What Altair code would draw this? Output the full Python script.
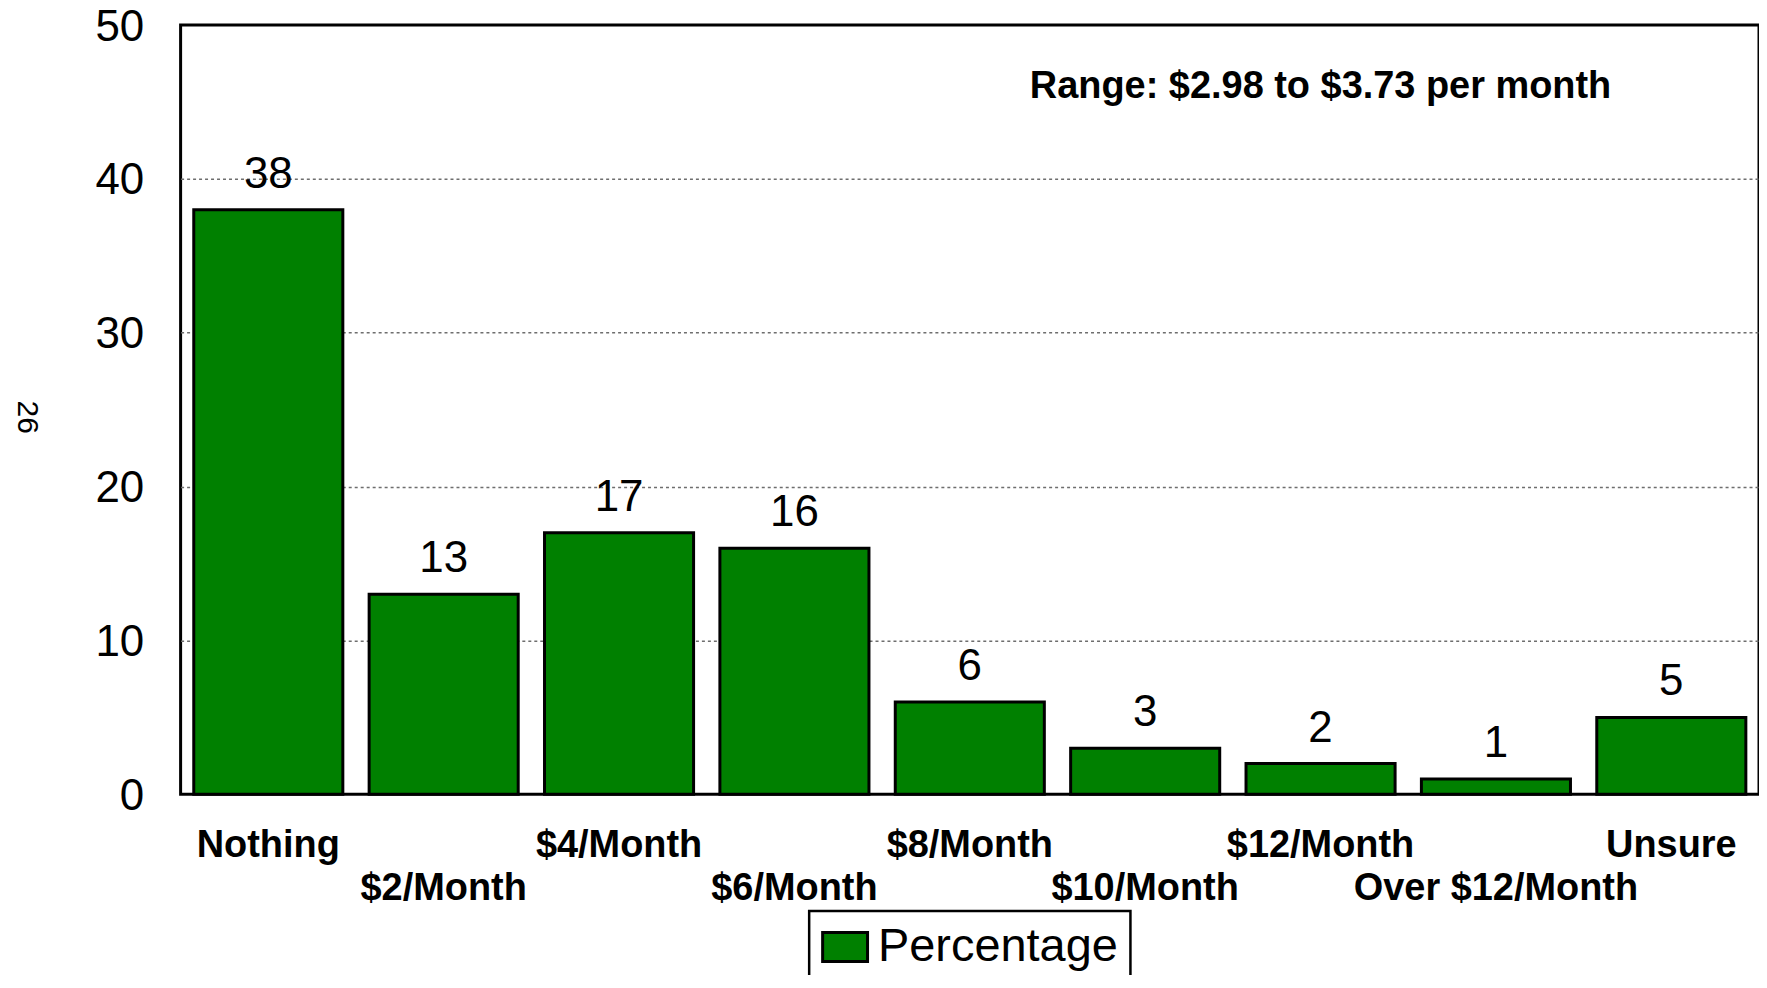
import altair as alt
import pandas as pd

categories = ["Nothing", "$2/Month", "$4/Month", "$6/Month", "$8/Month",
              "$10/Month", "$12/Month", "Over $12/Month", "Unsure"]
values = [38, 13, 17, 16, 6, 3, 2, 1, 5]
series_name = "Percentage"
y_ticks = [0, 10, 20, 30, 40, 50]
range_note = "Range: $2.98 to $3.73 per month"
range_note_category = "$12/Month"
range_note_value = 46
page_number = "26"

FONT = "Liberation Sans"

df = pd.DataFrame({"category": categories, "value": values,
                   "series": [series_name] * len(categories)})

second_row = [c for i, c in enumerate(categories) if i % 2 == 1]
label_expr = ("indexof([" + ",".join("'" + c + "'" for c in second_row) +
              "], datum.value) >= 0 ? ['', datum.label] : datum.label")

x_enc = alt.X(
    "category:N", sort=categories,
    scale=alt.Scale(paddingInner=0.15, paddingOuter=0.075),
    axis=alt.Axis(title=None, labelAngle=0, labelFont=FONT, labelFontSize=38,
                  labelFontWeight="bold", labelColor="black", labelPadding=32,
                  labelBaseline="top", labelLineHeight=43, labelExpr=label_expr,
                  domain=False, ticks=False, grid=False, labelLimit=500,
                  labelOverlap=False),
)
y_enc = alt.Y(
    "value:Q", scale=alt.Scale(domain=[0, 50], nice=False),
    axis=alt.Axis(values=y_ticks, title=None, labelFont=FONT, labelFontSize=44,
                  labelColor="black", labelPadding=37, labelOffset=2,
                  domain=False, ticks=False,
                  grid=True, gridColor="#6e6e6e", gridDash=[3, 3], gridWidth=1.5,
                  gridOpacity={"condition": {"test": "datum.value <= 0 || datum.value >= 50",
                                             "value": 0}, "value": 1},
                  labelFlush=False, labelOverlap=False),
)

base = alt.Chart(df).encode(x=x_enc, y=y_enc)

bars = base.mark_bar(stroke="black", strokeWidth=3).encode(
    color=alt.Color(
        "series:N",
        scale=alt.Scale(range=["#008000"]),
        legend=alt.Legend(
            title=None, orient="none", legendX=630, legendY=888,
            symbolType="M-1,-0.644L1,-0.644L1,0.644L-1,0.644Z",
            symbolSize=2025, symbolStrokeColor="black", symbolStrokeWidth=3,
            symbolOpacity=1,
            labelFont=FONT, labelFontSize=47, labelColor="black", labelOffset=9,
            labelLimit=500, padding=12, strokeColor="black", fillColor="white",
        ),
    )
)

labels = base.mark_text(font=FONT, fontSize=44, color="black",
                        baseline="alphabetic", dy=-22).encode(text="value:Q")

note_df = pd.DataFrame({"category": [range_note_category],
                        "value": [range_note_value], "text": [range_note]})
note = alt.Chart(note_df).mark_text(
    font=FONT, fontSize=38, fontWeight="bold", color="black",
    align="center", baseline="middle"
).encode(x=x_enc, y=y_enc, text="text:N")

page_df = pd.DataFrame({"text": [page_number]})
page = alt.Chart(page_df).mark_text(
    font=FONT, fontSize=30, color="black", angle=90,
    align="center", baseline="middle"
).encode(x=alt.value(-154), y=alt.value(393), text="text:N")

chart = alt.layer(bars, labels, note, page).properties(
    width=1582, height=771,
    autosize=alt.AutoSizeParams(type="none"),
    padding={"left": 173, "top": 16, "right": 0, "bottom": 180},
).configure_view(
    stroke="black", strokeWidth=3
).configure_legend(
    strokeWidth=2.5
)

chart.save("out.html", embed_options={"renderer": "svg", "actions": False})
